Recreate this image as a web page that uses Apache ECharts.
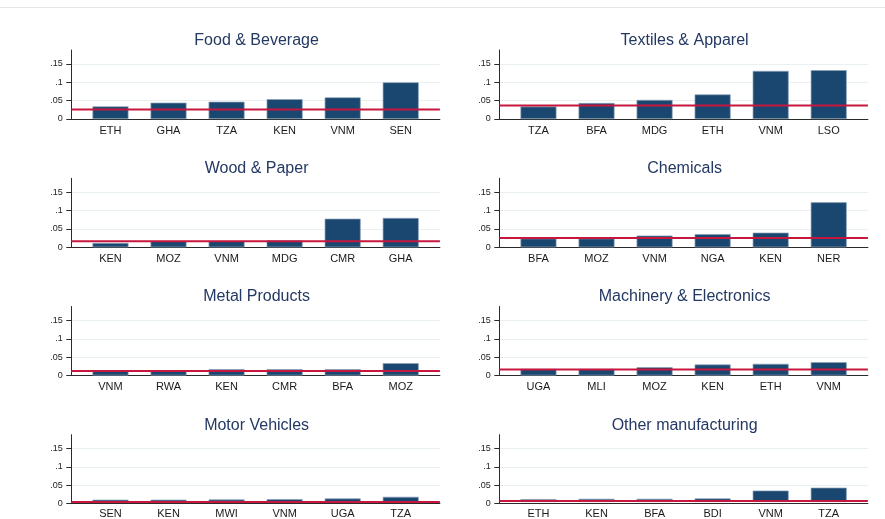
<!DOCTYPE html>
<html>
<head>
<meta charset="utf-8">
<script src="https://cdn.jsdelivr.net/npm/echarts@6/dist/echarts.min.js"></script>
<style>
  html, body { margin: 0; padding: 0; background: #ffffff; }
  #chart { width: 885px; height: 519px; }
</style>
</head>
<body>
<div id="chart"></div>
<script>
// Sector panels: six countries each, with the sector average drawn as a red line
const foodCountries = ['ETH', 'GHA', 'TZA', 'KEN', 'VNM', 'SEN'];
const foodValues = [0.0345, 0.0445, 0.047, 0.054, 0.059, 0.100];
const foodAverage = 0.026;

const textileCountries = ['TZA', 'BFA', 'MDG', 'ETH', 'VNM', 'LSO'];
const textileValues = [0.034, 0.0436, 0.052, 0.067, 0.131, 0.133];
const textileAverage = 0.0365;

const woodCountries = ['KEN', 'MOZ', 'VNM', 'MDG', 'CMR', 'GHA'];
const woodValues = [0.0118, 0.017, 0.017, 0.019, 0.078, 0.080];
const woodAverage = 0.0164;

const chemCountries = ['BFA', 'MOZ', 'VNM', 'NGA', 'KEN', 'NER'];
const chemValues = [0.024, 0.024, 0.032, 0.036, 0.040, 0.1227];
const chemAverage = 0.0255;

const metalCountries = ['VNM', 'RWA', 'KEN', 'CMR', 'BFA', 'MOZ'];
const metalValues = [0.0136, 0.0145, 0.0173, 0.0173, 0.0173, 0.0336];
const metalAverage = 0.012;

const machineryCountries = ['UGA', 'MLI', 'MOZ', 'KEN', 'ETH', 'VNM'];
const machineryValues = [0.018, 0.018, 0.0227, 0.030, 0.0318, 0.0364];
const machineryAverage = 0.0164;

const motorCountries = ['SEN', 'KEN', 'MWI', 'VNM', 'UGA', 'TZA'];
const motorValues = [0.0064, 0.0064, 0.007, 0.008, 0.010, 0.0145];
const motorAverage = 0.0045;

const otherCountries = ['ETH', 'KEN', 'BFA', 'BDI', 'VNM', 'TZA'];
const otherValues = [0.008, 0.009, 0.009, 0.010, 0.032, 0.040];
const otherAverage = 0.0073;

const panelTitles = ['Food & Beverage', 'Textiles & Apparel', 'Wood & Paper', 'Chemicals',
  'Metal Products', 'Machinery & Electronics', 'Motor Vehicles', 'Other manufacturing'];
const panelCountries = [foodCountries, textileCountries, woodCountries, chemCountries,
  metalCountries, machineryCountries, motorCountries, otherCountries];
const panelValues = [foodValues, textileValues, woodValues, chemValues,
  metalValues, machineryValues, motorValues, otherValues];
const panelAverages = [foodAverage, textileAverage, woodAverage, chemAverage,
  metalAverage, machineryAverage, motorAverage, otherAverage];

const yTicks = [0, 0.05, 0.1, 0.15];
const yTickLabels = ['0', '.05', '.1', '.15'];
const yMax = 0.188;

// Panel geometry (pixels)
const colLeft = [71.3, 499.3];
const rowTop = [50, 178.3, 306.5, 434.7];
const plotW = 368.6;
const plotH = 69;
const barInset = 10.15;

const FONT = '"Liberation Sans", Arial, sans-serif';
const navy = '#1a476f';
const red = '#c8173f';
const axisColor = '#2b2b2b';

const grid = [], xAxis = [], yAxis = [], series = [], title = [];

panelTitles.forEach((name, p) => {
  const col = p % 2, row = Math.floor(p / 2);
  const left = colLeft[col], top = rowTop[row];
  const outer = grid.length;
  const inner = outer + 1;

  // Outer frame: y axis, gridlines, baseline and the average line
  grid.push({ left: left, top: top, width: plotW, height: plotH, containLabel: false });
  // Inner band that holds the six bars
  grid.push({ left: left + barInset, top: top, width: plotW - 2 * barInset, height: plotH, containLabel: false });

  xAxis.push({
    type: 'value', gridIndex: outer, min: 0, max: 1,
    axisLine: { show: true, lineStyle: { color: axisColor, width: 1 } },
    axisTick: { show: false }, axisLabel: { show: false }, splitLine: { show: false }
  });
  xAxis.push({
    type: 'category', gridIndex: inner, data: panelCountries[p], boundaryGap: true,
    axisLine: { show: false }, axisTick: { show: false }, splitLine: { show: false },
    axisLabel: { fontFamily: FONT, fontSize: 11, color: '#1a1a1a', margin: 6, interval: 0 }
  });

  yAxis.push({
    type: 'value', gridIndex: outer, min: 0, max: yMax, interval: 0.05,
    axisLine: { show: true, lineStyle: { color: axisColor, width: 1 } },
    axisTick: { show: true, length: 5, customValues: yTicks, lineStyle: { color: axisColor } },
    axisLabel: {
      customValues: yTicks, fontFamily: FONT, fontSize: 9, color: '#222', margin: 8.5,
      formatter: v => {
        const i = yTicks.findIndex(t => Math.abs(t - v) < 1e-9);
        return i >= 0 ? yTickLabels[i] : '';
      }
    },
    splitLine: {
      show: true,
      lineStyle: { color: ['#e9f0f2', '#e9f0f2', '#e9f0f2', '#e9f0f2', 'rgba(0,0,0,0)'], width: 1 }
    }
  });
  yAxis.push({
    type: 'value', gridIndex: inner, min: 0, max: yMax, show: false,
    splitLine: { show: false }
  });

  series.push({
    type: 'bar', xAxisIndex: 2 * p + 1, yAxisIndex: 2 * p + 1,
    data: panelValues[p], barWidth: 36, z: 2,
    itemStyle: { color: navy, borderColor: '#8da2b7', borderWidth: 0.7 },
    animation: false, silent: true
  });
  series.push({
    type: 'line', xAxisIndex: 2 * p, yAxisIndex: 2 * p,
    data: [[0, panelAverages[p]], [1, panelAverages[p]]],
    symbol: 'none', z: 5,
    lineStyle: { color: red, width: 2 },
    animation: false, silent: true
  });

  title.push({
    text: name, left: left + plotW / 2 + 1, top: top - 17.5, textAlign: 'center', padding: 0,
    textStyle: { fontFamily: FONT, fontSize: 16, fontWeight: 'normal', color: '#233862' }
  });
});

const chart = echarts.init(document.getElementById('chart'), null, { renderer: 'canvas' });
chart.setOption({
  backgroundColor: '#ffffff',
  animation: false,
  title: title,
  grid: grid,
  xAxis: xAxis,
  yAxis: yAxis,
  series: series,
  graphic: [{
    type: 'line', shape: { x1: 0, y1: 7.5, x2: 885, y2: 7.5 },
    style: { stroke: '#e6e6e6', lineWidth: 1 }, silent: true
  }]
});
</script>
</body>
</html>
